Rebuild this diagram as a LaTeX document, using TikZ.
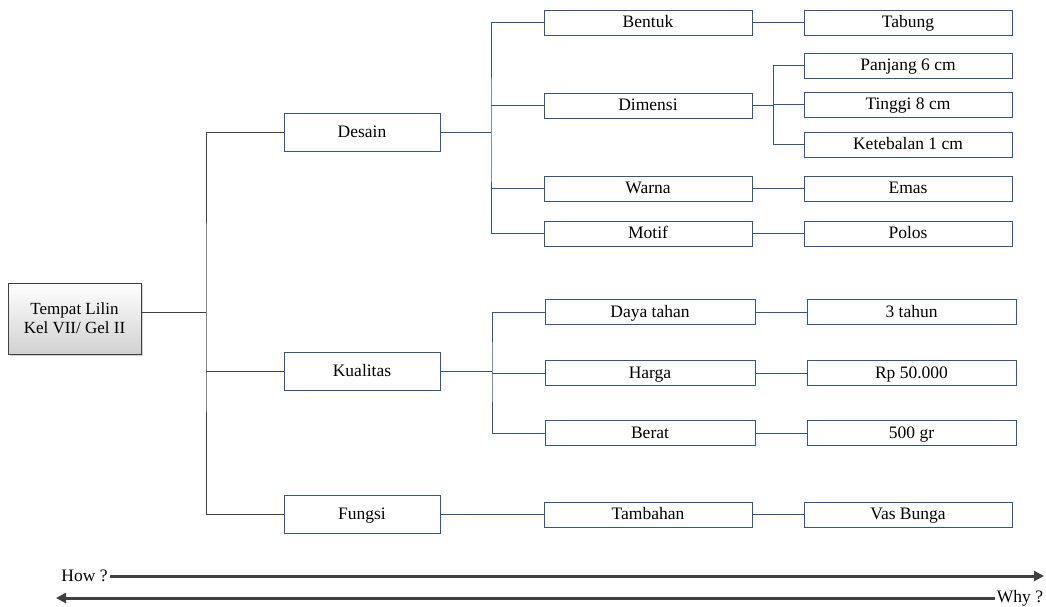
\documentclass[tikz,border=0pt]{standalone}
\usepackage{fontspec}
\setmainfont{Liberation Serif}
\usetikzlibrary{arrows.meta,shadows}
\definecolor{boxblue}{HTML}{2F5597}
\definecolor{darkline}{HTML}{404040}
\tikzset{
	rootbox/.style={draw=darkline,line width=1pt,top color=white,bottom color=black!18,drop shadow={opacity=0.35,shadow xshift=2pt,shadow yshift=-2pt},minimum width=133pt,minimum height=71pt,inner sep=0pt,align=center,font=\fontsize{17}{19}\selectfont},
	mainbox/.style={draw=boxblue,line width=1pt,fill=white,minimum width=156pt,minimum height=38pt,inner sep=0pt,text height=13pt,text depth=3pt},
	subbox/.style={draw=boxblue,line width=1pt,fill=white,minimum width=208pt,minimum height=25pt,inner sep=0pt,text height=13pt,text depth=3pt},
	trunk/.style={draw=darkline,line width=1pt},
	link/.style={draw=boxblue,line width=1pt},
	axis/.style={draw=darkline,line width=3pt,-{Triangle[length=10pt,width=10pt]}}
}
\begin{document}
\begin{tikzpicture}[x=1pt,y=-1pt,font=\fontsize{17.5}{19}\selectfont]
		\useasboundingbox (0,0) rectangle (1046,606);
		\node[rootbox] (root) at (74.5,318.5) {Tempat Lilin\\Kel VII/ Gel II};
		
		\node[mainbox] (desain) at (362,132) {Desain};
		\node[mainbox] (kualitas) at (362,371) {Kualitas};
		\node[mainbox] (fungsi) at (362,514.5) {Fungsi};
		
		\node[subbox] (bentuk) at (648,22.5) {Bentuk};
		\node[subbox] (dimensi) at (648,105.5) {Dimensi};
		\node[subbox] (warna) at (648,188.5) {Warna};
		\node[subbox] (motif) at (648,233.5) {Motif};
		\node[subbox] (tabung) at (908,22.5) {Tabung};
		\node[subbox] (panjang) at (908,65.5) {Panjang 6 cm};
		\node[subbox] (tinggi) at (908,104.5) {Tinggi 8 cm};
		\node[subbox] (tebal) at (908,144.5) {Ketebalan 1 cm};
		\node[subbox] (emas) at (908,188.5) {Emas};
		\node[subbox] (polos) at (908,233.5) {Polos};
		
		\node[subbox,minimum width=210pt] (daya) at (650,312) {Daya tahan};
		\node[subbox,minimum width=210pt] (harga) at (650,373) {Harga};
		\node[subbox,minimum width=210pt] (berat) at (650,433) {Berat};
		\node[subbox,minimum width=209pt] (tahun) at (911.5,312) {3 tahun};
		\node[subbox,minimum width=209pt] (rp) at (911.5,373) {Rp 50.000};
		\node[subbox,minimum width=209pt] (gr) at (911.5,433) {500 gr};
		
		\node[subbox] (tambahan) at (648,514.5) {Tambahan};
		\node[subbox] (vas) at (908,514.5) {Vas Bunga};
		
		\coordinate (tr) at (206,312);
		\coordinate (bd) at (491,132);
		\coordinate (bdim) at (773,105.5);
		\coordinate (bk) at (492,371);
		
		\draw[trunk] (root.east |- tr) -- (tr);
		\draw[trunk] (desain.west) -| (tr) |- (fungsi.west);
		\draw[trunk] (kualitas.west) -- (kualitas.west -| tr);
		
		\draw[link] (desain.east) -- (bd);
		\draw[link] (bentuk.west) -| (bd) |- (motif.west);
		\draw[link] (dimensi.west) -- (dimensi.west -| bd);
		\draw[link] (warna.west) -- (warna.west -| bd);
		\draw[link] (bentuk.east) -- (tabung.west);
		\draw[link] (dimensi.east) -- (bdim);
		\draw[link] (panjang.west) -| (bdim) |- (tebal.west);
		\draw[link] (tinggi.west) -- (tinggi.west -| bdim);
		\draw[link] (warna.east) -- (emas.west);
		\draw[link] (motif.east) -- (polos.west);
		
		\draw[link] (kualitas.east) -- (bk);
		\draw[link] (daya.west) -| (bk) |- (berat.west);
		\draw[link] (harga.west) -- (harga.west -| bk);
		\draw[link] (daya.east) -- (tahun.west);
		\draw[link] (harga.east) -- (rp.west);
		\draw[link] (berat.east) -- (gr.west);
		
		\draw[link] (fungsi.east) -- (tambahan.west);
		\draw[link] (tambahan.east) -- (vas.west);
		
		\node[inner sep=0pt] (how) at (84.5,576) {How ?};
		\coordinate (howend) at (1044,576);
		\draw[axis] (how.east) ++(2,0) -- (howend);
		\node[inner sep=0pt] (why) at (1020,598) {Why ?};
		\coordinate (whyend) at (56,598);
		\draw[axis] (why.west) ++(-2,0) -- (whyend);
	\end{tikzpicture}
\end{document}
